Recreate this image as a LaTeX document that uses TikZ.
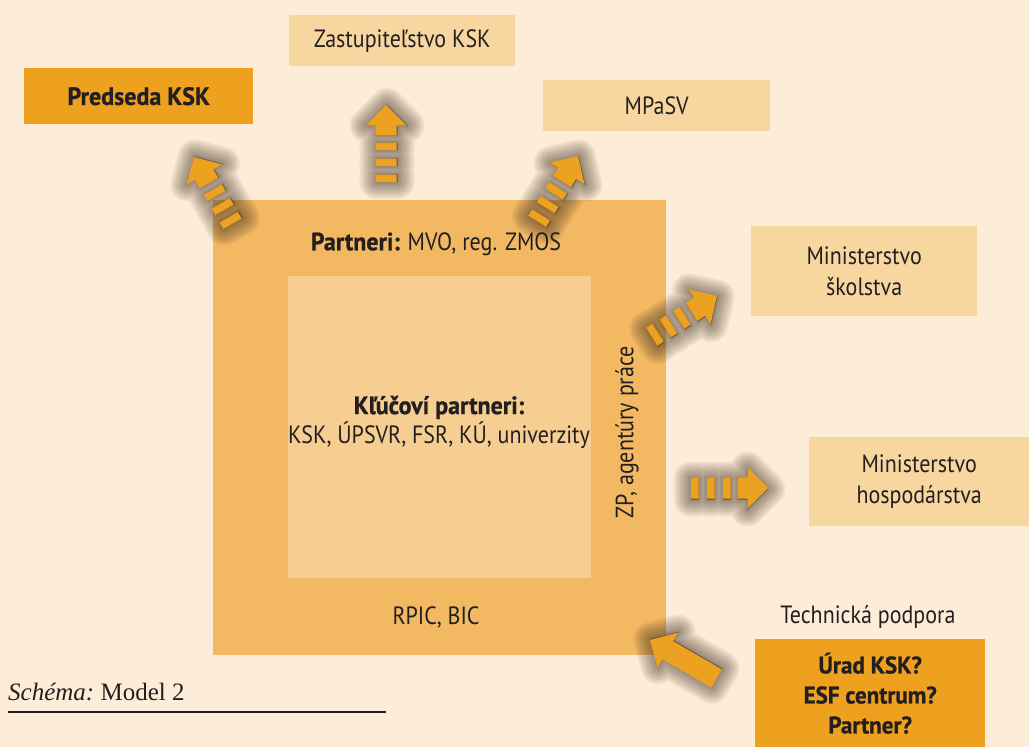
\documentclass[tikz,border=0pt]{standalone}
\usepackage{fontspec}
\setmainfont{PT Sans}[FakeStretch=0.88, BoldFeatures={FakeStretch=0.96, FakeBold=0.8}]
\newfontfamily\capfont{Liberation Serif}
\definecolor{bgc}{HTML}{FDECD8}
\definecolor{outerc}{HTML}{F2B862}
\definecolor{innerc}{HTML}{F6CE92}
\definecolor{lightc}{HTML}{F8D6A0}
\definecolor{darkc}{HTML}{EDA11F}
\definecolor{arrowc}{HTML}{EDA120}
\definecolor{txtc}{HTML}{231F20}
\definecolor{shdc}{HTML}{3A2A1C}
\tikzset{
  box/.style={anchor=north west, inner sep=0pt, text=txtc, align=center},
  lightbox/.style={box, fill=lightc, font=\fontsize{25}{31}\selectfont},
  darkbox/.style={box, fill=darkc, font=\bfseries\fontsize{24}{30}\selectfont},
  lbl/.style={inner sep=0pt, text=txtc, align=center, font=\fontsize{25}{29}\selectfont},
  dshape/.style={insert path={
      (-77,-10.5) rectangle (-69.5,10.5)
      (-61,-10.5) rectangle (-53.5,10.5)
      (-45,-10.5) rectangle (-37.5,10.5)
      (-30,-10.5) -- (-20.5,-10.5) -- (-20.5,-20.5) -- (0,0) -- (-20.5,20.5) -- (-20.5,10.5) -- (-30,10.5) -- cycle}},
  sshape/.style={insert path={
      (-77,-10.5) -- (-20.5,-10.5) -- (-20.5,-20.5) -- (0,0) -- (-20.5,20.5) -- (-20.5,10.5) -- (-77,10.5) -- cycle}},
  shdstroke/.style={fill=shdc, draw=shdc, line width=#1, line join=round, opacity=0.07},
  darrow/.pic={
    \foreach \w in {34pt,30pt,26pt,22pt,18pt,14pt,10pt,6pt,3pt}
      {\path[shdstroke=\w, yshift=-1pt, dshape];}
    \path[fill=arrowc, dshape];
  },
  sarrow/.pic={
    \foreach \w in {34pt,30pt,26pt,22pt,18pt,14pt,10pt,6pt,3pt}
      {\path[shdstroke=\w, yshift=-1pt, sshape];}
    \path[fill=arrowc, sshape];
  }
}
\begin{document}
\begin{tikzpicture}[x=1pt,y=-1pt]
\fill[bgc] (0,0) rectangle (1029,747);
\useasboundingbox (0,0) rectangle (1029,747);

% squares
\node[box, fill=outerc, minimum width=453pt, minimum height=455pt] (outer) at (213,200) {};
\node[box, fill=innerc, minimum width=303pt, minimum height=302pt] (inner) at (288,276) {};

% boxes
\node[lightbox, minimum width=226pt, minimum height=51pt] (zast) at (289,15) {Zastupiteľstvo KSK};
\node[darkbox, minimum width=229pt, minimum height=56pt, font=\bfseries\fontsize{25}{28}\selectfont] (pred) at (24,68) {Predseda KSK};
\node[lightbox, minimum width=227pt, minimum height=51pt] (mpsv) at (543,80) {MPaSV};
\node[lightbox, minimum width=226pt, minimum height=90pt] (skol) at (751,226) {Ministerstvo\\školstva};
\node[lightbox, minimum width=220pt, minimum height=89pt] (hosp) at (809,437) {Ministerstvo\\hospodárstva};
\node[darkbox, minimum width=230pt, minimum height=108pt] (urad) at (755,639) {Úrad KSK?\\ESF centrum?\\Partner?};

% labels
\node[lbl] (partneri) at (436,244) {\textbf{Partneri:} MVO, reg. ZMOS};
\node[lbl] (kluc) at (439,422) {\textbf{Kľúčoví partneri:}\\KSK, ÚPSVR, FSR, KÚ, univerzity};
\node[lbl] (rpic) at (436,617) {RPIC, BIC};
\node[lbl, rotate=90] (zp) at (627,432) {ZP, agentúry práce};
\node[lbl] (tech) at (868,617) {Technická podpora};

% arrows
\pic[rotate=90] at (386,105) {darrow};
\pic[rotate=120] at (194,157) {darrow};
\pic[rotate=58] at (578,156) {darrow};
\pic[rotate=32] at (717,296) {darrow};
\pic at (768,488) {darrow};
\pic[rotate=150] at (650,640) {sarrow};

% caption
\node[anchor=base west, inner sep=0pt, text=txtc, font=\capfont\fontsize{25}{28}\selectfont] (cap) at (8,700) {\textit{Schéma:}\hspace{-2pt} Model 2};
\coordinate (ul1) at (8,712);
\coordinate (ul2) at (386,712);
\draw[txtc, line width=1.2pt] (ul1) -- (ul2);
\end{tikzpicture}
\end{document}
